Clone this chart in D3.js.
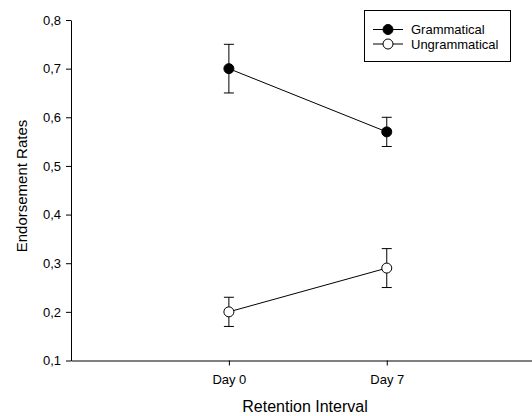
<!DOCTYPE html>
<html>
<head>
<meta charset="utf-8">
<script src="https://cdn.jsdelivr.net/npm/d3@7"></script>
<style>
	body { margin: 0; background: #fff; }
	text { font-family: "Liberation Sans", Arial, sans-serif; }
</style>
</head>
<body>
<svg id="chart" width="532" height="416"></svg>
<script>

// data
var days = ["Day 0", "Day 7"];
var grammatical = [0.70, 0.57];
var grammaticalErr = [0.05, 0.03];
var ungrammatical = [0.20, 0.29];
var ungrammaticalErr = [0.03, 0.04];
var yTicks = [0.1, 0.2, 0.3, 0.4, 0.5, 0.6, 0.7, 0.8];

var series = [
	{name: "Grammatical", values: grammatical, err: grammaticalErr, fill: "#000"},
	{name: "Ungrammatical", values: ungrammatical, err: ungrammaticalErr, fill: "#fff"}
];

var svg = d3.select("#chart");

var x = d3.scaleLinear().domain([0, 2.92]).range([71, 532]);
var y = d3.scaleLinear().domain([0.1, 0.8]).range([360.5, 20]);

var fmt = function (d) { return d3.format(".1f")(d).replace(".", ","); };

// axes
svg.append("g")
	.attr("transform", "translate(71,0)")
	.call(d3.axisLeft(y).tickValues(yTicks).tickFormat(fmt).tickSize(5).tickSizeOuter(0).tickPadding(5));

svg.append("g")
	.attr("transform", "translate(0,360.5)")
	.call(d3.axisBottom(x).tickValues([1, 2]).tickFormat(function (d) { return days[d - 1]; }).tickSize(5).tickSizeOuter(0).tickPadding(9));

svg.selectAll(".tick text")
	.style("font-size", "13px")
	.attr("fill", "#000");

svg.selectAll(".domain, .tick line")
	.attr("stroke", "#000")
	.attr("stroke-width", 1);

svg.append("text")
	.attr("x", 305)
	.attr("y", 412)
	.style("text-anchor", "middle")
	.style("font-size", "16px")
	.text("Retention Interval");

svg.append("text")
	.attr("transform", "translate(26.5,186) rotate(-90)")
	.style("text-anchor", "middle")
	.style("font-size", "15px")
	.text("Endorsement Rates");

// series
var line = d3.line()
	.x(function (d, i) { return x(i + 1); })
	.y(function (d) { return y(d); });

series.forEach(function (s) {

	var g = svg.append("g");

	g.append("path")
	.attr("d", line(s.values))
	.attr("fill", "none")
	.attr("stroke", "#000")
	.attr("stroke-width", 1);

	s.values.forEach(function (v, i) {

		var cx = x(i + 1);
		var lo = y(v - s.err[i]);
		var hi = y(v + s.err[i]);

		g.append("line")
		.attr("x1", cx).attr("x2", cx)
		.attr("y1", lo).attr("y2", hi)
		.attr("stroke", "#000");

		g.selectAll(null)
		.data([lo, hi])
		.enter().append("line")
		.attr("x1", cx - 5).attr("x2", cx + 5)
		.attr("y1", function (d) { return d; })
		.attr("y2", function (d) { return d; })
		.attr("stroke", "#000");

		g.append("circle")
		.attr("cx", cx)
		.attr("cy", y(v))
		.attr("r", 5)
		.attr("fill", s.fill)
		.attr("stroke", "#000");
	});
});

// legend
var legend = svg.append("g");

legend.append("rect")
	.attr("x", 364.5)
	.attr("y", 10.5)
	.attr("width", 146)
	.attr("height", 51)
	.attr("fill", "#fff")
	.attr("stroke", "#000");

series.forEach(function (s, i) {

	var ly = 29.5 + i * 14.5;

	legend.append("line")
	.attr("x1", 373).attr("x2", 403)
	.attr("y1", ly).attr("y2", ly)
	.attr("stroke", "#000");

	legend.append("circle")
	.attr("cx", 388)
	.attr("cy", ly)
	.attr("r", 5)
	.attr("fill", s.fill)
	.attr("stroke", "#000");

	legend.append("text")
	.attr("x", 411)
	.attr("y", ly + 4.5)
	.style("font-size", "13px")
	.text(s.name);
});

</script>
</body>
</html>
